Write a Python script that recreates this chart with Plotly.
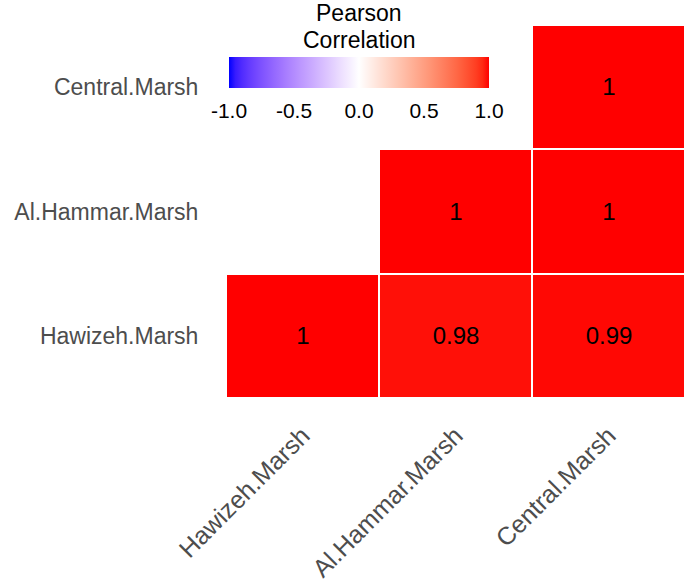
import numpy as np
import plotly.graph_objects as go

marshes = ["Hawizeh.Marsh", "Al.Hammar.Marsh", "Central.Marsh"]
# rows follow y order bottom -> top
corr_hawizeh = [1.0, 0.98, 0.99]
corr_alhammar = [None, 1.0, 1.0]
corr_central = [None, None, 1.0]
label_hawizeh = ["1", "0.98", "0.99"]
label_alhammar = ["", "1", "1"]
label_central = ["", "", "1"]
cbar_ticks = [-1.0, -0.5, 0.0, 0.5, 1.0]
cbar_ticktext = ["-1.0", "-0.5", "0.0", "0.5", "1.0"]
legend_title = ["Pearson", "Correlation"]

z = [corr_hawizeh, corr_alhammar, corr_central]
txt = [label_hawizeh, label_alhammar, label_central]


# ---- Lab-space gradient (like ggplot2 scale_fill_gradient2) ----
def _srgb_to_lin(c):
    c = np.asarray(c, float) / 255.0
    return np.where(c <= 0.04045, c / 12.92, ((c + 0.055) / 1.055) ** 2.4)


def _lin_to_srgb(c):
    c = np.clip(c, 0, 1)
    return np.where(c <= 0.0031308, 12.92 * c, 1.055 * c ** (1 / 2.4) - 0.055) * 255


M = np.array([[0.4124, 0.3576, 0.1805], [0.2126, 0.7152, 0.0722], [0.0193, 0.1192, 0.9505]])
Minv = np.linalg.inv(M)
WP = np.array([0.95047, 1.0, 1.08883])


def rgb_to_lab(rgb):
    xyz = M @ _srgb_to_lin(rgb) / WP
    f = np.where(xyz > (6 / 29) ** 3, np.cbrt(xyz), xyz / (3 * (6 / 29) ** 2) + 4 / 29)
    return np.array([116 * f[1] - 16, 500 * (f[0] - f[1]), 200 * (f[1] - f[2])])


def lab_to_rgb(lab):
    L, a, b = lab
    fy = (L + 16) / 116
    fx = fy + a / 500
    fz = fy - b / 200
    f = np.array([fx, fy, fz])
    xyz = np.where(f > 6 / 29, f ** 3, 3 * (6 / 29) ** 2 * (f - 4 / 29)) * WP
    return _lin_to_srgb(Minv @ xyz)


low, mid, high = rgb_to_lab([0, 0, 255]), rgb_to_lab([255, 255, 255]), rgb_to_lab([255, 0, 0])
colorscale = []
for t in np.linspace(0, 1, 41):
    if t <= 0.5:
        s = t / 0.5
        lab = low + (mid - low) * s
    else:
        s = (t - 0.5) / 0.5
        lab = mid + (high - mid) * s
    r, g, b = lab_to_rgb(lab)
    colorscale.append([float(t), f"rgb({int(round(r))},{int(round(g))},{int(round(b))})"])

FONT = "Liberation Sans, Arial, sans-serif"
W, H = 685, 585
# plot area in pixels: x 226..685, y 25..398
PL, PR, PT, PB = 226, 685, 25, 398


def px_x(x):
    return (x - PL) / (PR - PL)


def px_y(y):
    return (PB - y) / (PB - PT)


fig = go.Figure(
    go.Heatmap(
        x=marshes,
        y=marshes,
        z=z,
        text=txt,
        texttemplate="%{text}",
        textfont=dict(family=FONT, size=24, color="black"),
        zmin=-1,
        zmax=1,
        colorscale=colorscale,
        xgap=2,
        ygap=2,
        hoverongaps=False,
        colorbar=dict(
            orientation="h",
            x=px_x(359),
            xanchor="center",
            y=px_y(57),
            yanchor="top",
            len=260,
            lenmode="pixels",
            thickness=31,
            xpad=0,
            ypad=0,
            outlinewidth=0,
            tickvals=cbar_ticks,
            ticktext=cbar_ticktext,
            ticks="outside",
            ticklen=5,
            tickcolor="rgba(0,0,0,0)",
            tickfont=dict(family=FONT, size=21, color="black"),
        ),
    )
)

for i, line in enumerate(legend_title):
    fig.add_annotation(
        text=line,
        xref="paper",
        yref="paper",
        x=px_x(359),
        y=px_y(13 + 27 * i),
        xanchor="center",
        yanchor="middle",
        showarrow=False,
        font=dict(family=FONT, size=23, color="black"),
    )

fig.update_layout(
    width=W,
    height=H,
    margin=dict(l=PL, r=W - PR, t=PT, b=H - PB, autoexpand=False),
    paper_bgcolor="white",
    plot_bgcolor="white",
    showlegend=False,
)
fig.update_xaxes(
    tickangle=-45,
    tickfont=dict(family=FONT, size=25, color="#4D4D4D"),
    showgrid=False,
    zeroline=False,
    ticks="outside",
    ticklen=12,
    tickcolor="rgba(0,0,0,0)",
    automargin=False,
)
fig.update_yaxes(
    tickfont=dict(family=FONT, size=23, color="#4D4D4D"),
    showgrid=False,
    zeroline=False,
    ticks="outside",
    ticklen=22,
    tickcolor="rgba(0,0,0,0)",
    automargin=False,
)

post = (
    "document.body.style.margin='0px';"
    "document.body.style.overflow='hidden';"
    "Plotly.relayout(document.getElementById('{plot_id}'), {width: %d, height: %d});" % (W, H)
)

fig.write_html("out.html", post_script=post, config={"displayModeBar": False})
